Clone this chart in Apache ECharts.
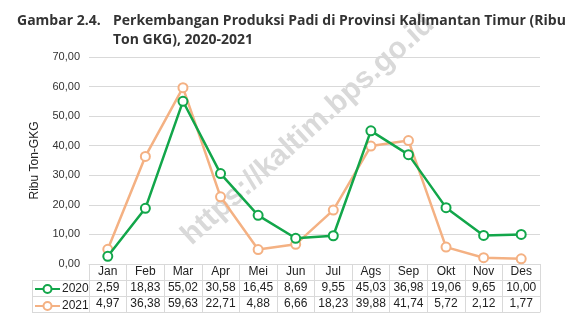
<!DOCTYPE html>
<html>
<head>
<meta charset="utf-8">
<script src="https://cdn.jsdelivr.net/npm/echarts@6/dist/echarts.min.js"></script>
<style>
  html, body { margin: 0; padding: 0; background: #fff; }
  #chart { width: 582px; height: 333px; }
</style>
</head>
<body>
<div id="chart"></div>
<script>
// Monthly rice production, East Kalimantan (thousand tonnes GKG)
const months = ['Jan', 'Feb', 'Mar', 'Apr', 'Mei', 'Jun', 'Jul', 'Ags', 'Sep', 'Okt', 'Nov', 'Des'];
const values2020 = [2.59, 18.83, 55.02, 30.58, 16.45, 8.69, 9.55, 45.03, 36.98, 19.06, 9.65, 10.00];
const values2021 = [4.97, 36.38, 59.63, 22.71, 4.88, 6.66, 18.23, 39.88, 41.74, 5.72, 2.12, 1.77];
const yTicks = { min: 0, max: 70, interval: 10 };

const GREEN = '#12a64a';
const ORANGE = '#f4b183';
const BORDER = '#d9d9d9';
const TEXT = '#222';
const ROW = 16;

const fmt = v => v.toFixed(2).replace('.', ',');

const chart = echarts.init(document.getElementById('chart'), null, { renderer: 'canvas' });

// Table rows under the plot are extra category axes sharing the same grid.
function tableAxis(offset, labels, showTicks) {
  return {
    type: 'category',
    data: months,
    position: 'bottom',
    offset: offset,
    boundaryGap: true,
    axisLine: { show: true, lineStyle: { color: BORDER, width: 1 } },
    axisTick: { show: showTicks, alignWithLabel: false, interval: 0, length: ROW, lineStyle: { color: BORDER, width: 1 } },
    axisLabel: labels ? {
      show: true, interval: 0, margin: 2,
      color: TEXT, fontFamily: 'Liberation Sans, Arial', fontSize: 12,
      formatter: (val, idx) => labels[idx]
    } : { show: false },
    splitLine: { show: false }
  };
}

const titleStyle = { fontFamily: 'Open Sans', fontWeight: 700, fontSize: 14, lineHeight: 19, color: '#333' };

const option = {
  backgroundColor: '#fff',
  animation: false,
  title: [
    { text: 'Gambar 2.4.', left: 12, top: 7, textStyle: titleStyle },
    {
      text: 'Perkembangan Produksi Padi di Provinsi Kalimantan Timur (Ribu\nTon GKG), 2020-2021',
      left: 108, top: 7, textStyle: titleStyle
    }
  ],
  legend: {
    orient: 'vertical',
    left: 34, top: 282,
    padding: 0,
    itemWidth: 25, itemHeight: 10,
    itemGap: 3,
    textStyle: { color: TEXT, fontFamily: 'Liberation Sans, Arial', fontSize: 12, lineHeight: 14, padding: [0, 0, 0, -3] },
    data: ['2020', '2021']
  },
  grid: { left: 89, right: 42, top: 57, height: 207, containLabel: false },
  xAxis: [
    tableAxis(0, months, true),
    tableAxis(ROW, values2020.map(fmt), true),
    tableAxis(ROW * 2, values2021.map(fmt), true),
    tableAxis(ROW * 3, null, false)
  ],
  yAxis: {
    type: 'value',
    min: yTicks.min, max: yTicks.max, interval: yTicks.interval,
    name: 'Ribu Ton-GKG',
    nameLocation: 'middle',
    nameGap: 48,
    nameTextStyle: { color: TEXT, fontFamily: 'Liberation Sans, Arial', fontSize: 12 },
    axisLine: { show: false },
    axisTick: { show: false },
    axisLabel: { color: '#333', fontFamily: 'Liberation Sans, Arial', fontSize: 11, margin: 9, formatter: fmt },
    splitLine: { lineStyle: { color: BORDER, width: 1 } }
  },
  graphic: [
    {
      type: 'text',
      x: 308, y: 130,
      rotation: 42 * Math.PI / 180,
      z: 0,
      style: {
        text: 'https://kaltim.bps.go.id',
        fill: 'rgba(150,150,150,0.36)',
        font: 'bold 30px "Liberation Sans", Arial',
        textAlign: 'center',
        textVerticalAlign: 'middle'
      }
    },
    // legend column frame of the data table
    { type: 'line', shape: { x1: 32, y1: 280.5, x2: 89, y2: 280.5 }, style: { stroke: BORDER, lineWidth: 1 } },
    { type: 'line', shape: { x1: 32, y1: 296.5, x2: 89, y2: 296.5 }, style: { stroke: BORDER, lineWidth: 1 } },
    { type: 'line', shape: { x1: 32, y1: 312.5, x2: 89, y2: 312.5 }, style: { stroke: BORDER, lineWidth: 1 } },
    { type: 'line', shape: { x1: 32.5, y1: 280.5, x2: 32.5, y2: 312.5 }, style: { stroke: BORDER, lineWidth: 1 } }
  ],
  series: [
    {
      name: '2020', type: 'line', data: values2020,
      xAxisIndex: 0, z: 3,
      symbol: 'emptyCircle', symbolSize: 9,
      lineStyle: { color: GREEN, width: 2.5 },
      itemStyle: { color: GREEN, borderColor: GREEN, borderWidth: 2 }
    },
    {
      name: '2021', type: 'line', data: values2021,
      xAxisIndex: 0, z: 2,
      symbol: 'emptyCircle', symbolSize: 9,
      lineStyle: { color: ORANGE, width: 2.5 },
      itemStyle: { color: ORANGE, borderColor: ORANGE, borderWidth: 2 }
    }
  ]
};

chart.setOption(option);
</script>
</body>
</html>
